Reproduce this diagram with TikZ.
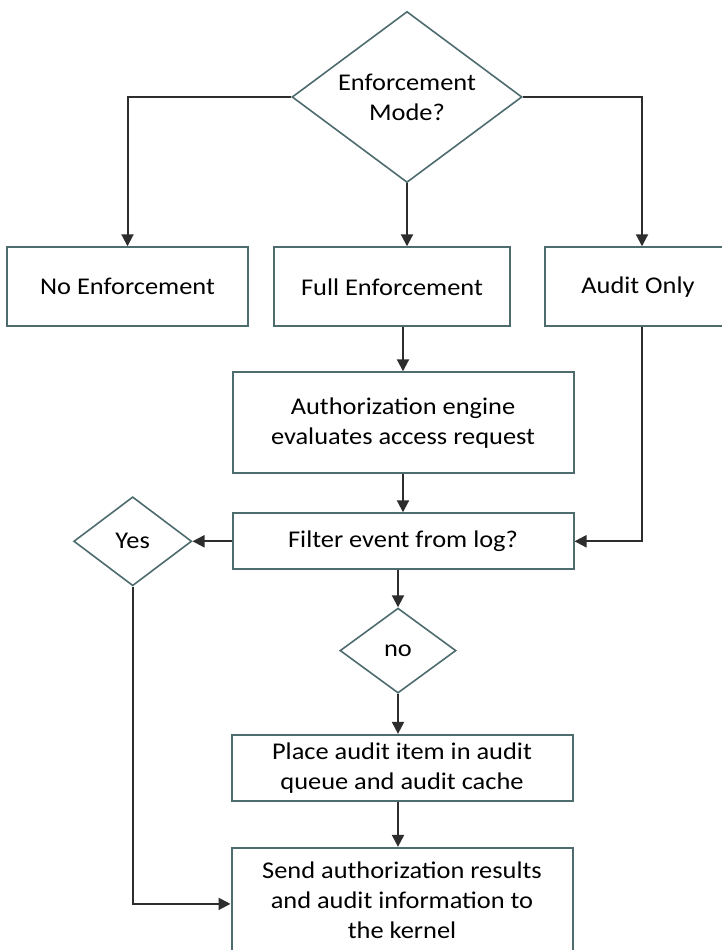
\documentclass[tikz,border=0pt]{standalone}
\usepackage{fontspec}
\setmainfont{Carlito}[FakeStretch=1.1]
\usepackage{tikz}
\usetikzlibrary{positioning,shapes.geometric,arrows.meta}
\definecolor{boxline}{RGB}{78,108,110}
\definecolor{flowline}{RGB}{45,45,45}
\tikzset{step box/.style={rectangle, draw=boxline, line width=2pt, align=center, inner sep=2pt},
  choice node/.style={diamond, draw=boxline, line width=1.6pt, align=center, inner sep=0pt, aspect=1.4},
  flow/.style={draw=flowline, line width=2pt, -{Triangle[length=12pt,width=12pt]}},}

\begin{document}
\begin{tikzpicture}[font=\fontsize{24}{30}\selectfont]
        \useasboundingbox (0,0) rectangle (722pt,950pt);
        \fill[white] (0,0) rectangle (722pt,950pt);
        % Nodes
        \node[choice node, minimum width=230pt, minimum height=171pt] (mode) at (407pt,853pt) {Enforcement\\Mode?};
        \node[step box, minimum width=236pt, minimum height=79pt] [below = 63pt of mode, xshift=-15pt] (full) {Full Enforcement};
        \node[step box, minimum width=241pt, minimum height=79pt] [left = 24pt of full] (none) {No Enforcement};
        \node[step box, minimum width=186pt, minimum height=79pt] [right = 33pt of full] (audit) {Audit Only};
        \node[step box, minimum width=341pt, minimum height=101pt] [below = 44pt of full, xshift=11pt] (engine) {Authorization engine\\evaluates access request};
        \node[step box, minimum width=341pt, minimum height=56pt] [below = 38pt of engine] (filter) {Filter event from log?};
        \node[choice node, minimum width=118pt, minimum height=89pt] [left = 39pt of filter] (yes) {Yes};
        \node[choice node, minimum width=116pt, minimum height=85pt] [below = 37pt of filter, xshift=-5pt] (no) {no};
        \node[step box, minimum width=341pt, minimum height=66pt] [below = 40pt of no, xshift=4pt] (place) {Place audit item in audit\\queue and audit cache};
        \node[step box, minimum width=341pt, minimum height=115pt] [below = 45pt of place] (send) {};
        \node[align=center, inner sep=0pt] [below = 15pt of send.north] (sendtext) {Send authorization results\\and audit information to\\the kernel};
        % Paths
        \draw[flow] (mode.west) -| (none.north);
        \draw[flow] (mode.east) -| ([xshift=4pt]audit.north);
        \draw[flow] (mode.south) -- (mode.south |- full.north);
        \draw[flow] (engine.north |- full.south) -- (engine.north);
        \draw[flow] (engine) -- (filter);
        \draw[flow] ([xshift=4pt]audit.south) |- (filter.east);
        \draw[flow] (filter.west) -- (yes.east);
        \draw[flow] (filter.south -| no.north) -- (no.north);
        \draw[flow] (no.south) -- (no.south |- place.north);
        \draw[flow] (no.south |- place.south) -- (no.south |- send.north);
        \draw[flow] (yes.south) |- ([yshift=-57pt]send.north west);
\end{tikzpicture}
\end{document}
